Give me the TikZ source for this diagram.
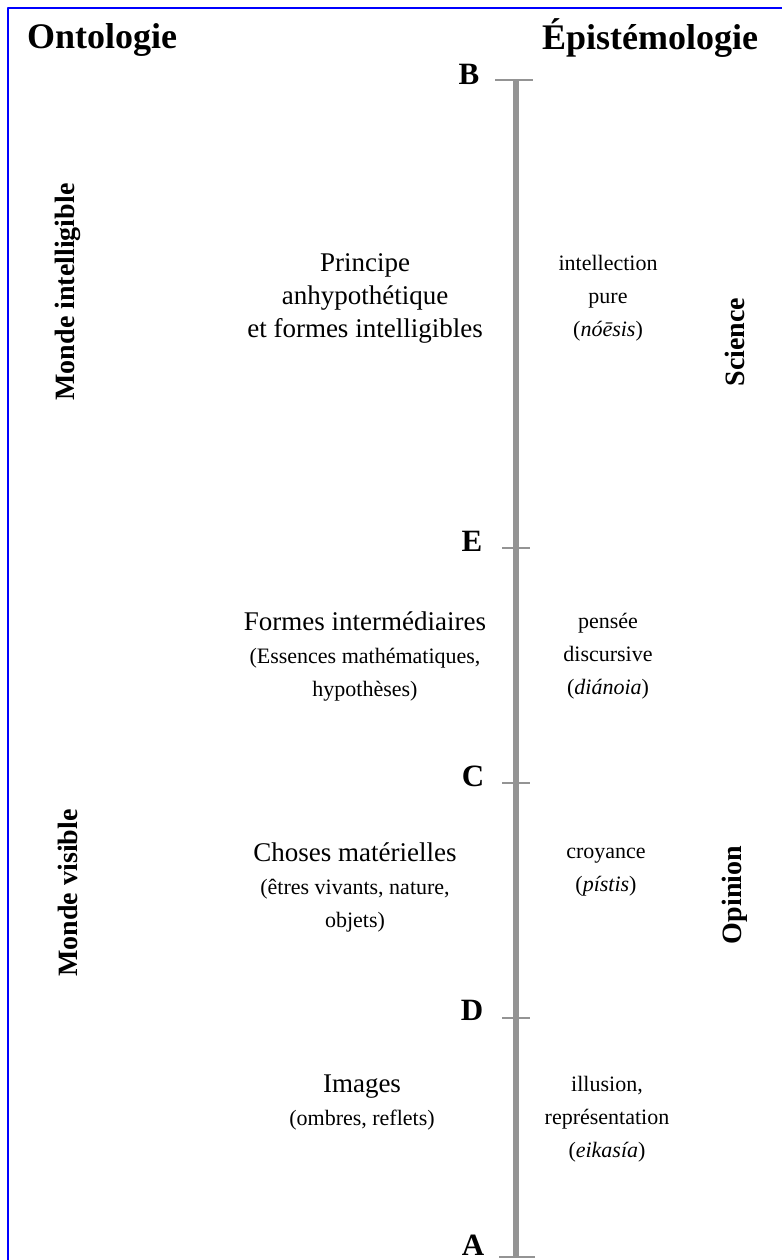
\documentclass[tikz,border=0pt]{standalone}
\usepackage{fontspec}
\setmainfont{Liberation Serif}
\usetikzlibrary{arrows}
\definecolor{qqqqff}{rgb}{0.,0.,1.}
\definecolor{aaaaaa}{rgb}{0.58,0.58,0.58}
\tikzset{
  titre/.style={font=\bfseries\fontsize{18}{20}\selectfont,inner sep=0pt},
  lettre/.style={font=\bfseries\fontsize{15.5}{17}\selectfont,inner sep=0pt},
  monde/.style={font=\bfseries\fontsize{14}{16}\selectfont,rotate=90,inner sep=0pt},
  grand/.style={align=center,font=\fontsize{13.5}{16.5}\selectfont,inner sep=0pt},
  petit/.style={align=center,font=\fontsize{11}{16.5}\selectfont,inner sep=0pt}
}
\newcommand{\gros}{\fontsize{13.5}{16.5}\selectfont}
\begin{document}
\begin{tikzpicture}[line cap=butt,line join=round,x=0.5pt,y=-0.5pt]
\useasboundingbox (0,0) rectangle (782,1260);
\draw[line width=1.2pt,color=qqqqff] (8,1262) -- (8,8) -- (784,8);
\node[titre] (onto) at (102,40) {Ontologie};
\node[titre] (epis) at (650,38) {Épistémologie};
% l'axe
\coordinate (ptB) at (516,80);
\coordinate (ptE) at (516,548);
\coordinate (ptC) at (516,783);
\coordinate (ptD) at (516,1018);
\coordinate (ptA) at (516,1257);
\draw[line width=2.8pt,color=aaaaaa] (ptB) -- (ptA);
\draw[line width=1.4pt,color=aaaaaa] (ptB) ++(-21,0) -- ++(38,0);
\draw[line width=1.4pt,color=aaaaaa] (ptA) ++(-17,0) -- ++(36,0);
\foreach \p in {ptE,ptC,ptD}
  \draw[line width=1.4pt,color=aaaaaa] (\p) ++(-14,0) -- ++(28,0);
\node[lettre] (lB) at (469,74) {B};
\node[lettre] (lE) at (472,541) {E};
\node[lettre] (lC) at (473,776) {C};
\node[lettre] (lD) at (472,1010) {D};
\node[lettre] (lA) at (473,1245) {A};
% ontologie
\node[monde] (intel) at (68,292) {Monde intelligible};
\node[monde] (visib) at (68,893) {Monde visible};
\node[grand] (princ) at (365,298) {Principe\\anhypothétique\\et formes intelligibles};
\node[petit] (inter) at (365,656) {{\gros Formes intermédiaires}\\(Essences mathématiques,\\hypothèses)};
\node[petit] (chose) at (355,887) {{\gros Choses matérielles}\\(êtres vivants, nature,\\objets)};
\node[petit] (image) at (362,1102) {{\gros Images}\\(ombres, reflets)};
% epistemologie
\node[petit] (noesis) at (608,298) {intellection\\pure\\(\textit{nóēsis})};
\node[petit] (dianoia) at (608,656) {pensée\\discursive\\(\textit{diánoia})};
\node[petit] (pistis) at (606,872) {croyance\\(\textit{pístis})};
\node[petit] (eikasia) at (607,1119) {illusion,\\représentation\\(\textit{eikasía})};
\node[monde] (scien) at (735,342) {Science};
\node[monde] (opin) at (735,895) {Opinion};
\end{tikzpicture}
\end{document}
